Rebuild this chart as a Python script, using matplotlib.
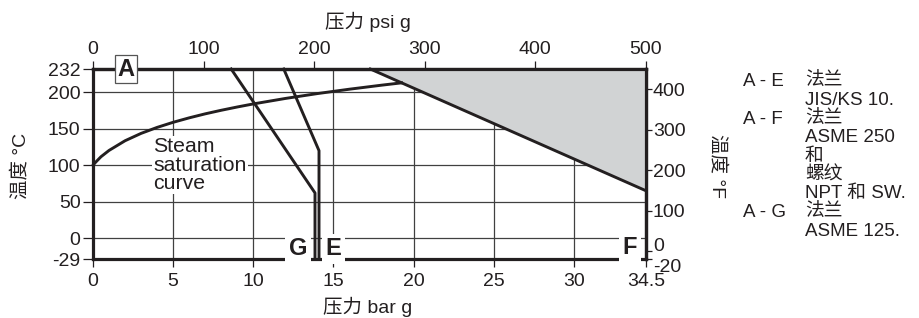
import numpy as np
import matplotlib.pyplot as plt

plt.rcParams['font.family'] = ['Liberation Sans', 'Noto Sans CJK SC']
plt.rcParams['axes.unicode_minus'] = False

INK = '#231f20'

# steam saturation curve (bar g -> °C)
sat_bar = [0, 0.1, 0.25, 0.5, 1, 2, 3, 4, 5, 6, 7, 8, 9, 10, 12, 14, 16, 18, 19.25]
sat_temp = [100, 102.6, 106.1, 111.7, 120.3, 133.6, 143.7, 151.9, 158.9, 165.0,
            170.5, 175.4, 179.9, 184.1, 191.6, 198.3, 204.3, 209.8, 213.0]

# flange limits
e_bar = [11.9, 14.1, 14.1]
e_temp = [232, 120, -29]
g_bar = [8.62, 13.85, 13.85]
g_temp = [232, 62, -29]
f_bar = [17.3, 34.5]
f_temp = [232, 65]

x_ticks = [0, 5, 10, 15, 20, 25, 30, 34.5]
x_labels = ['0', '5', '10', '15', '20', '25', '30', '34.5']
y_ticks = [-29, 0, 50, 100, 150, 200, 232]
y_labels = ['-29', '0', '50', '100', '150', '200', '232']
psi_ticks = [0, 100, 200, 300, 400, 500]
degf_ticks = [-20, 0, 100, 200, 300, 400, 450]
degf_labels = ['-20', '0', '100', '200', '300', '400', '450']

legend_keys = ['A - E', '', 'A - F', '', '', '', '', 'A - G', '']
legend_text = ['法兰', 'JIS/KS 10.', '法兰', 'ASME 250', '和', '螺纹',
               'NPT 和 SW.', '法兰', 'ASME 125.']

fig = plt.figure(figsize=(9.19, 3.18), dpi=100)
ax = fig.add_axes([93 / 919, 1 - 259.3 / 318, 553 / 919, 190.3 / 318])
ax.set_xlim(0, 34.5)
ax.set_ylim(-29, 232)

ax.set_axisbelow(True)
ax.grid(True, color='#404040', lw=0.9)

ax.fill_between(f_bar, f_temp, 232, color='#d1d3d4', lw=0, zorder=1)

lw = 2.1
ax.plot(sat_bar, sat_temp, color=INK, lw=lw, clip_on=False, zorder=4)
ax.plot(e_bar, e_temp, color=INK, lw=lw, clip_on=False, zorder=4)
ax.plot(g_bar, g_temp, color=INK, lw=lw, clip_on=False, zorder=4)
ax.plot(f_bar, f_temp, color=INK, lw=lw, clip_on=False, zorder=4)

for s in ax.spines.values():
    s.set_linewidth(2.3)
    s.set_color(INK)

ax.set_xticks(x_ticks, x_labels)
ax.set_yticks(y_ticks, y_labels)
ax.tick_params(axis='x', direction='out', length=6, width=0.9, pad=4,
               labelsize=14, colors=INK)
ax.tick_params(axis='y', direction='out', length=7, width=0.9, pad=2,
               labelsize=14, colors=INK)

top = ax.secondary_xaxis('top', functions=(lambda b: b * 14.5038, lambda p: p / 14.5038))
top.set_xticks(psi_ticks)
top.tick_params(direction='out', length=6, width=0.9, pad=2, labelsize=14, colors=INK)
top.spines['top'].set_linewidth(2.3)

right = ax.secondary_yaxis('right', functions=(lambda c: c * 9 / 5 + 32, lambda f: (f - 32) * 5 / 9))
right.set_yticks(degf_ticks, degf_labels)
right.tick_params(direction='out', length=4, width=0.9, pad=1, labelsize=14, colors=INK)
right.spines['right'].set_linewidth(2.3)
for lab in right.get_yticklabels():
    if lab.get_text() == '-20':
        lab.set_verticalalignment('top')
    elif lab.get_text() == '0':
        lab.set_verticalalignment('baseline')

# region letters
ax.text(2.06, 232, 'A', fontsize=17, fontweight='bold', color=INK, ha='center', va='center',
        zorder=5, bbox=dict(boxstyle='square,pad=0.12', fc='white', ec='#555555', lw=0.9))
for lab, xb, yc in [('G', 12.8, -14.7), ('E', 15.0, -14.7), ('F', 33.5, -13)]:
    ax.text(xb, yc, lab, fontsize=17, fontweight='bold', color=INK, ha='center', va='center',
            zorder=3, bbox=dict(boxstyle='square,pad=0.15', fc='white', ec='none'))

ax.text(3.75, 100, 'Steam\nsaturation\ncurve', fontsize=15.3, color=INK, ha='left', va='center',
        linespacing=0.95, zorder=3, bbox=dict(boxstyle='square,pad=0.05', fc='white', ec='none'))

# axis titles
fig.text(368 / 919, 1 - 22 / 318, '压力 psi g', fontsize=14, color=INK, ha='center', va='center')
fig.text(368 / 919, 1 - 307 / 318, '压力 bar g', fontsize=14, color=INK, ha='center', va='center')
fig.text(20 / 919, 1 - 166 / 318, '温度 °C', fontsize=14, color=INK, ha='center', va='center',
         rotation=90)
fig.text(718 / 919, 1 - 166 / 318, '温度 °F', fontsize=14, color=INK, ha='center', va='center',
         rotation=270)

# legend notes
for i, (k, t) in enumerate(zip(legend_keys, legend_text)):
    yp = 1 - (81.7 + i * 18.7) / 318
    if k:
        fig.text(743 / 919, yp, k, fontsize=13.5, color=INK, ha='left', va='center')
    fig.text(805 / 919, yp, t, fontsize=13.5, color=INK, ha='left', va='center')

fig.savefig('out.png', dpi=100)
